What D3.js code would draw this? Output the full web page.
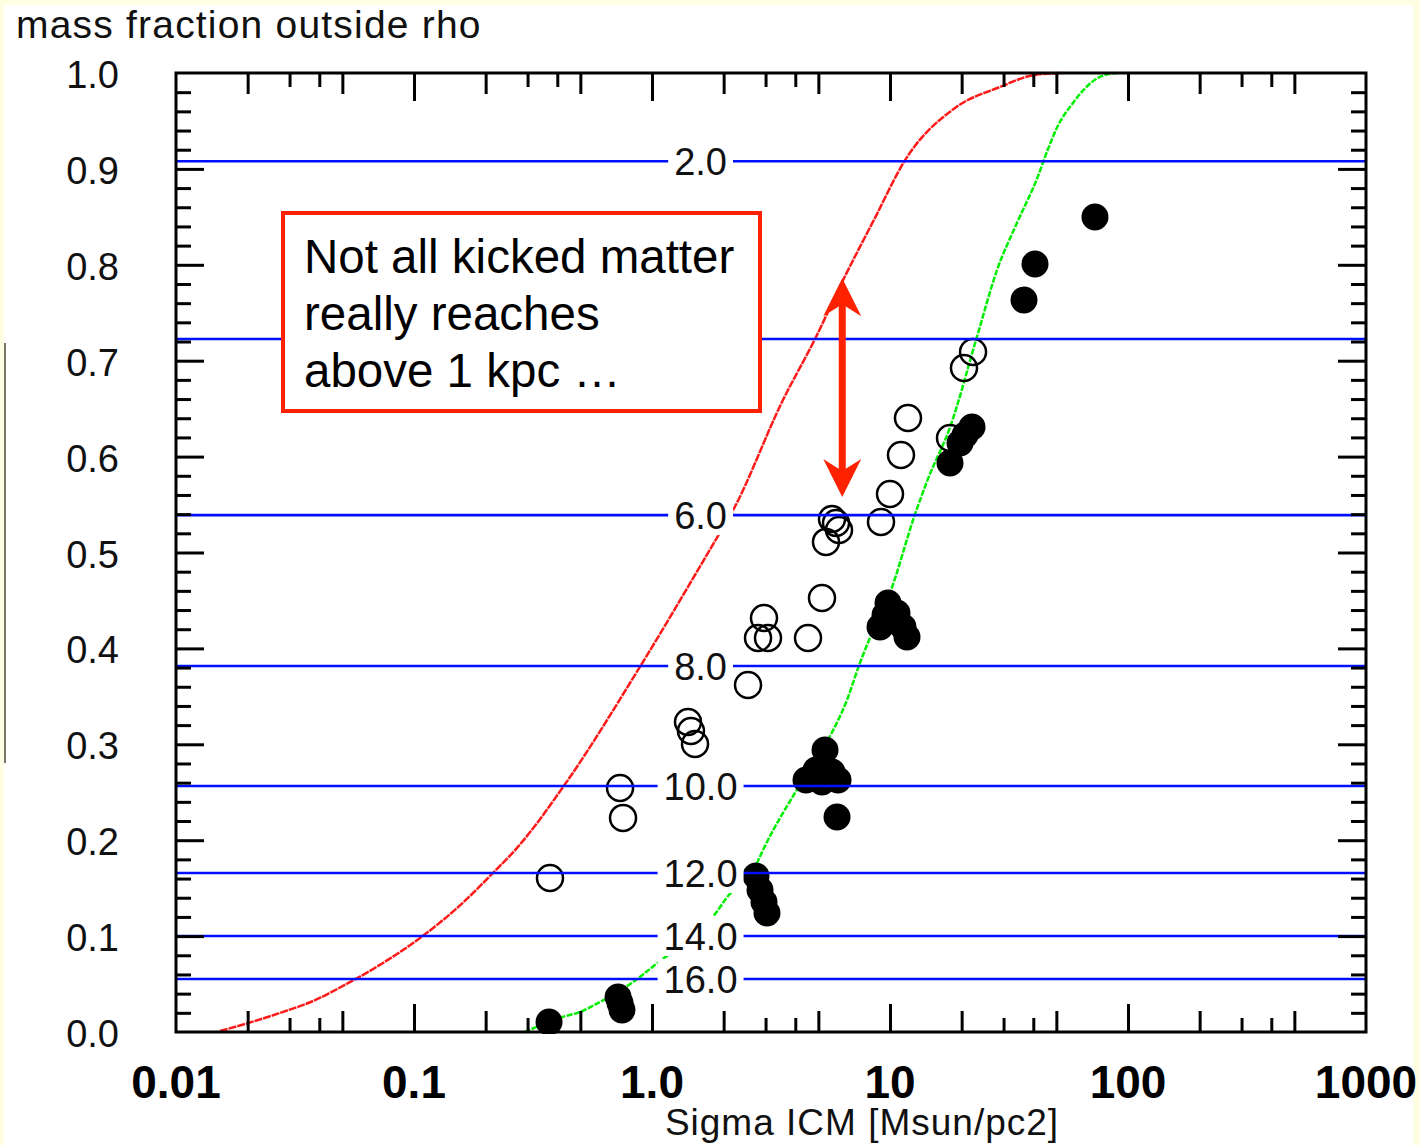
<!DOCTYPE html>
<html>
<head>
<meta charset="utf-8">
<script src="https://cdn.jsdelivr.net/npm/d3@7"></script>
<style>
  html, body { margin: 0; padding: 0; background: #ffffff; }
  svg { display: block; }
</style>
</head>
<body>
<svg id="chart" width="1420" height="1145"></svg>
<script>
// ---------------- DATA ----------------
const titleText = "mass fraction outside rho";
const xAxisTitle = "Sigma ICM [Msun/pc2]";

const xTickValues = [0.01, 0.1, 1, 10, 100, 1000];
const xTickLabels = ["0.01", "0.1", "1.0", "10", "100", "1000"];
const yTickValues = [0.0, 0.1, 0.2, 0.3, 0.4, 0.5, 0.6, 0.7, 0.8, 0.9, 1.0];
const yTickLabels = ["0.0", "0.1", "0.2", "0.3", "0.4", "0.5", "0.6", "0.7", "0.8", "0.9", "1.0"];

// horizontal reference levels (blue) and their labels
const levelLabels = ["2.0", "4.0", "6.0", "8.0", "10.0", "12.0", "14.0", "16.0"];
const levelFractions = [0.908, 0.7226, 0.539, 0.3816, 0.2565, 0.1658, 0.1001, 0.0553];
const levelLabelX = 1.6;

// red model curve: [sigma, fraction]
const redCurve = [
  [0.0153, 0.001], [0.0199, 0.009], [0.0282, 0.021], [0.0366, 0.031], [0.0538, 0.052],
  [0.0741, 0.072], [0.106, 0.098], [0.156, 0.132], [0.215, 0.166], [0.271, 0.192],
  [0.430, 0.258], [0.891, 0.381], [1.80, 0.508], [2.19, 0.544], [3.55, 0.659],
  [4.84, 0.7226], [6.35, 0.784], [8.65, 0.849], [11.56, 0.909], [18.75, 0.9635],
  [28.97, 0.9854], [40.6, 0.998], [53.3, 1.0]
];

// green model curve: [sigma, fraction]
const greenCurve = [
  [0.292, 0.0], [0.419, 0.0156], [0.498, 0.0209], [0.605, 0.0313], [0.832, 0.0521],
  [1.03, 0.070], [1.93, 0.130], [2.03, 0.138], [2.71, 0.172], [2.93, 0.190],
  [4.19, 0.258], [5.33, 0.299], [6.59, 0.346], [7.48, 0.385], [8.40, 0.416],
  [10.0, 0.458], [12.7, 0.539], [14.4, 0.576], [17.9, 0.631], [23.2, 0.725],
  [28.2, 0.795], [34.2, 0.844], [41.5, 0.890], [46.0, 0.920], [51.0, 0.946],
  [58.0, 0.967], [66.0, 0.984], [76.3, 0.996], [89.9, 1.0]
];

// open circles: [sigma, fraction]
const openPoints = [
  [0.3727, 0.1606], [0.734, 0.2544], [0.7556, 0.2232], [1.417, 0.3233], [1.458, 0.3139],
  [1.516, 0.3003], [2.532, 0.3618], [2.955, 0.4317], [2.789, 0.4108], [3.072, 0.4108],
  [4.524, 0.4108], [5.179, 0.4526], [5.706, 0.5349], [6.106, 0.5235], [5.932, 0.5308],
  [5.384, 0.5110], [9.167, 0.5318], [10.0, 0.5610], [11.12, 0.6017], [11.90, 0.6403],
  [17.87, 0.6194], [20.46, 0.6924], [22.33, 0.7091]
];

// filled circles: [sigma, fraction]
const filledPoints = [
  [0.3693, 0.0104], [0.7201, 0.0365], [0.734, 0.0302], [0.748, 0.0229],
  [2.735, 0.1627], [2.843, 0.1481], [2.955, 0.1356], [3.042, 0.1241],
  [5.333, 0.2941], [4.889, 0.2732], [4.437, 0.2628], [5.179, 0.2607], [5.706, 0.2711],
  [6.047, 0.2628], [5.990, 0.2242],
  [9.81, 0.4473], [10.70, 0.4369], [9.08, 0.4223], [11.34, 0.4223], [11.79, 0.4119], [9.53, 0.4348],
  [17.87, 0.5933], [19.69, 0.6142], [20.66, 0.6225], [22.11, 0.6309],
  [36.56, 0.7633], [40.67, 0.8008], [72.65, 0.8498]
];

// annotation
const noteLines = ["Not all kicked matter", "really reaches", "above 1 kpc \u2026"];
const arrowSigma = 6.3;
const arrowFrom = 0.786;   // top tip (fraction)
const arrowTo = 0.558;     // bottom tip (fraction)

// ---------------- LAYOUT ----------------
const svg = d3.select("#chart");
const W = 1420, H = 1145;
const plot = { left: 176, right: 1366, top: 73, bottom: 1032 };

const x = d3.scaleLog().domain([0.01, 1000]).range([plot.left, plot.right]);
const y = d3.scaleLinear().domain([0, 1]).range([plot.bottom, plot.top]);

const thinFont = "'Liberation Sans', Arial, 'DejaVu Sans', sans-serif";

// page background with pale yellow margins
svg.append("rect").attr("x", 0).attr("y", 0).attr("width", W).attr("height", H).attr("fill", "#fefee3");
svg.append("rect").attr("x", 4).attr("y", 5).attr("width", W - 11).attr("height", H - 5).attr("fill", "#ffffff");
svg.append("line").attr("x1", 5).attr("x2", 5).attr("y1", 343).attr("y2", 763)
  .attr("stroke", "#7a7466").attr("stroke-width", 2);

// title
svg.append("text").attr("x", 16).attr("y", 38)
  .attr("font-family", thinFont).attr("font-size", 39).attr("letter-spacing", 1.2)
  .attr("fill", "#111").text(titleText);

// clip to plot
svg.append("defs").append("clipPath").attr("id", "plotclip")
  .append("rect").attr("x", plot.left).attr("y", plot.top - 2)
  .attr("width", plot.right - plot.left).attr("height", plot.bottom - plot.top + 4);

const g = svg.append("g").attr("clip-path", "url(#plotclip)");

// curves
const line = d3.line().x(d => x(d[0])).y(d => y(d[1])).curve(d3.curveMonotoneX);
g.append("path").attr("d", line(redCurve)).attr("fill", "none")
  .attr("stroke", "#ff1a1a").attr("stroke-width", 2.5).attr("stroke-dasharray", "8,1");
g.append("path").attr("d", line(greenCurve)).attr("fill", "none")
  .attr("stroke", "#00ee00").attr("stroke-width", 2.5).attr("stroke-dasharray", "6,1.5");

// markers
g.selectAll("circle.filled").data(filledPoints).join("circle")
  .attr("class", "filled").attr("cx", d => x(d[0])).attr("cy", d => y(d[1]))
  .attr("r", 13.5).attr("fill", "#000");
g.selectAll("circle.open").data(openPoints).join("circle")
  .attr("class", "open").attr("cx", d => x(d[0])).attr("cy", d => y(d[1]))
  .attr("r", 13).attr("fill", "none").attr("stroke", "#000").attr("stroke-width", 2.5);

// blue levels with labels (label box masks what is beneath)
levelFractions.forEach((f, i) => {
  const yy = y(f);
  g.append("line").attr("x1", plot.left).attr("x2", plot.right).attr("y1", yy).attr("y2", yy)
    .attr("stroke", "#0010ff").attr("stroke-width", 2.6);
  const t = svg.append("text").attr("x", x(levelLabelX)).attr("y", yy + 14)
    .attr("text-anchor", "middle").attr("font-family", thinFont).attr("font-size", 38)
    .attr("fill", "#111").text(levelLabels[i]);
  const bb = t.node().getBBox();
  svg.insert("rect", () => t.node())
    .attr("x", bb.x - 6).attr("y", yy - 20).attr("width", bb.width + 12).attr("height", 40)
    .attr("fill", "#ffffff");
});

// frame
svg.append("rect").attr("x", plot.left).attr("y", plot.top)
  .attr("width", plot.right - plot.left).attr("height", plot.bottom - plot.top)
  .attr("fill", "none").attr("stroke", "#000").attr("stroke-width", 3);

// x ticks (inward, bottom and top)
const decades = [0.01, 0.1, 1, 10, 100];
const longMinor = decades.flatMap(d => [2 * d, 5 * d]);
const shortMinor = decades.flatMap(d => [3 * d, 4 * d]);
function xTicks(vals, len) {
  svg.append("g").attr("transform", `translate(0,${plot.bottom})`)
    .call(d3.axisBottom(x).tickValues(vals).tickSize(-len).tickFormat(""))
    .call(a => a.select(".domain").remove())
    .call(a => a.selectAll("line").attr("stroke", "#000").attr("stroke-width", 3));
  svg.append("g").attr("transform", `translate(0,${plot.top})`)
    .call(d3.axisTop(x).tickValues(vals).tickSize(-len).tickFormat(""))
    .call(a => a.select(".domain").remove())
    .call(a => a.selectAll("line").attr("stroke", "#000").attr("stroke-width", 3));
}
xTicks(xTickValues.slice(1, -1), 28);
xTicks(longMinor, 21);
xTicks(shortMinor, 14);

// y ticks (inward, left and right)
const yMinor = d3.range(0, 51).map(i => i / 50).filter(v => Math.round(v * 50) % 5 !== 0);
function yTicks(vals, len) {
  svg.append("g").attr("transform", `translate(${plot.left},0)`)
    .call(d3.axisLeft(y).tickValues(vals).tickSize(-len).tickFormat(""))
    .call(a => a.select(".domain").remove())
    .call(a => a.selectAll("line").attr("stroke", "#000").attr("stroke-width", 3));
  svg.append("g").attr("transform", `translate(${plot.right},0)`)
    .call(d3.axisRight(y).tickValues(vals).tickSize(-len).tickFormat(""))
    .call(a => a.select(".domain").remove())
    .call(a => a.selectAll("line").attr("stroke", "#000").attr("stroke-width", 3));
}
yTicks(yTickValues.slice(1, -1), 28);
yTicks(yMinor, 15);

// tick labels
svg.selectAll("text.xl").data(xTickValues).join("text").attr("class", "xl")
  .attr("x", d => x(d)).attr("y", 1098).attr("text-anchor", "middle")
  .attr("font-family", thinFont).attr("font-weight", "bold").attr("font-size", 46)
  .attr("fill", "#000").text((d, i) => xTickLabels[i]);
svg.selectAll("text.yl").data(yTickValues).join("text").attr("class", "yl")
  .attr("x", 119).attr("y", d => y(d) + 15).attr("text-anchor", "end")
  .attr("font-family", thinFont).attr("font-size", 38)
  .attr("fill", "#111").text((d, i) => yTickLabels[i]);

// x axis title
svg.append("text").attr("x", 862).attr("y", 1135).attr("text-anchor", "middle")
  .attr("font-family", thinFont).attr("font-size", 37).attr("letter-spacing", 1)
  .attr("fill", "#111").text(xAxisTitle);

// annotation box
svg.append("rect").attr("x", 283).attr("y", 213).attr("width", 477).attr("height", 198)
  .attr("fill", "#ffffff").attr("stroke", "#ff2200").attr("stroke-width", 4);
noteLines.forEach((t, i) => {
  svg.append("text").attr("x", 304).attr("y", 273 + i * 57)
    .attr("font-family", thinFont).attr("font-size", 47.5).attr("fill", "#000").text(t);
});

// double arrow
const ax = x(arrowSigma), ay1 = y(arrowFrom), ay2 = y(arrowTo);
svg.append("line").attr("x1", ax).attr("x2", ax).attr("y1", ay1 + 25).attr("y2", ay2 - 25)
  .attr("stroke", "#ff2200").attr("stroke-width", 7);
svg.append("path")
  .attr("d", `M${ax},${ay1} L${ax + 19},${ay1 + 38} L${ax},${ay1 + 26} L${ax - 19},${ay1 + 38} Z`)
  .attr("fill", "#ff2200");
svg.append("path")
  .attr("d", `M${ax},${ay2} L${ax + 19},${ay2 - 38} L${ax},${ay2 - 26} L${ax - 19},${ay2 - 38} Z`)
  .attr("fill", "#ff2200");
</script>
</body>
</html>
